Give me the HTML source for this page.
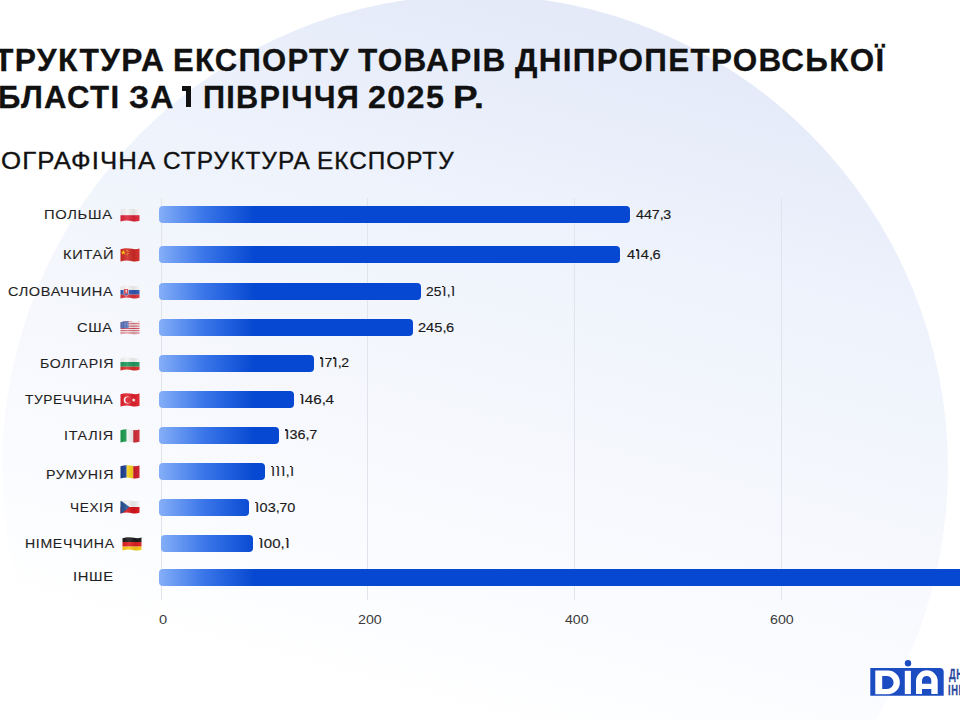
<!DOCTYPE html>
<html><head><meta charset="utf-8">
<style>
html,body{margin:0;padding:0;}
body{width:960px;height:720px;position:relative;overflow:hidden;background:#fff;font-family:"Liberation Sans",sans-serif;}
.circle{position:absolute;left:2px;top:-5px;width:946px;height:946px;border-radius:50%;
background:linear-gradient(195deg,#e2e8f8 0%,#e4eaf8 11%,#edf2fc 27%,#f3f6fc 40%,#f9fafe 55%,#fcfdff 64%,#ffffff 72%);}
.t{position:absolute;white-space:nowrap;line-height:1;transform-origin:0 0;}
.grid{position:absolute;top:198px;width:1px;height:402px;background:#e1e4ec;}
.bar{position:absolute;height:17px;border-radius:4px;
background:linear-gradient(90deg,#84aef7 0px,#3a76e9 45px,#0648d1 95px);}
svg.flag{position:absolute;width:20px;height:14px;overflow:visible;}
</style></head><body>
<div class="circle"></div>

<div class="grid" style="left:161px"></div>
<div class="grid" style="left:367px"></div>
<div class="grid" style="left:574px"></div>
<div class="grid" style="left:781px"></div>

<div class="bar" style="left:159px;top:206px;width:471px"></div>
<div class="bar" style="left:159px;top:246px;width:461px"></div>
<div class="bar" style="left:159px;top:283px;width:262px"></div>
<div class="bar" style="left:159px;top:319px;width:254px"></div>
<div class="bar" style="left:159px;top:355px;width:155px"></div>
<div class="bar" style="left:159px;top:391px;width:135px"></div>
<div class="bar" style="left:159px;top:427px;width:120px"></div>
<div class="bar" style="left:159px;top:463px;width:106px"></div>
<div class="bar" style="left:159px;top:499px;width:90px"></div>
<div class="bar" style="left:161px;top:535px;width:92px"></div>
<div class="bar" style="left:159px;top:569px;width:810px"></div>

<svg width="0" height="0" style="position:absolute">
<defs>
<clipPath id="wave"><path d="M0.5,1.2 C5,-0.3 9,0.2 12,0.8 C15,1.4 17,1.2 19.5,0.4 L19.5,12.8 C17,13.6 15,13.8 12,13.2 C9,12.6 5,12.1 0.5,13.6 Z"/></clipPath>
<linearGradient id="shade" x1="0" x2="1" y1="0" y2="0">
<stop offset="0" stop-color="#000" stop-opacity="0.05"/>
<stop offset="0.35" stop-color="#fff" stop-opacity="0.12"/>
<stop offset="0.7" stop-color="#000" stop-opacity="0.08"/>
<stop offset="1" stop-color="#fff" stop-opacity="0.05"/>
</linearGradient>
</defs>
</svg>
<svg class="flag" style="left:120px;top:208px;" viewBox="0 0 20 14"><g clip-path="url(#wave)"><rect width="20" height="7.2" fill="#f4f4f4"/><rect y="7.2" width="20" height="8" fill="#dc2538"/><rect width="20" height="15" fill="url(#shade)"/></g></svg>
<svg class="flag" style="left:120px;top:247.8px;" viewBox="0 0 20 14"><g clip-path="url(#wave)"><rect width="20" height="15" fill="#d02a26"/><polygon points="3.5,2.2 4.3,4.4 6.4,4.4 4.7,5.7 5.4,7.8 3.5,6.5 1.7,7.8 2.3,5.7 0.7,4.4 2.8,4.4" fill="#ffd800" transform="translate(0.3,0) scale(0.85)"/><circle cx="7" cy="2.2" r="0.5" fill="#ffd800"/><circle cx="8" cy="3.6" r="0.5" fill="#ffd800"/><circle cx="8" cy="5.4" r="0.5" fill="#ffd800"/><circle cx="7" cy="6.8" r="0.5" fill="#ffd800"/><rect width="20" height="15" fill="url(#shade)"/></g></svg>
<svg class="flag" style="left:120px;top:284.5px;" viewBox="0 0 20 14"><g clip-path="url(#wave)"><rect width="20" height="5" fill="#f4f4f4"/><rect y="5" width="20" height="4.6" fill="#2f56b0"/><rect y="9.6" width="20" height="5.4" fill="#d8323a"/><path d="M3.6,3.4 h5 v4.6 c0,2 -1.6,3.1 -2.5,3.5 c-0.9,-0.4 -2.5,-1.5 -2.5,-3.5 z" fill="#f4f4f4"/><path d="M4.1,3.9 h4 v4.1 c0,1.6 -1.2,2.5 -2,2.9 c-0.8,-0.4 -2,-1.3 -2,-2.9 z" fill="#d8323a"/><rect x="5.8" y="4.5" width="0.7" height="4.2" fill="#fff"/><rect x="5" y="5.6" width="2.3" height="0.6" fill="#fff"/><path d="M4.3,9.2 c0.6,-0.8 1.2,-0.8 1.8,-0.2 c0.6,-0.6 1.2,-0.6 1.8,0.2 l-1.8,1.5 z" fill="#2f56b0"/><rect width="20" height="15" fill="url(#shade)"/></g></svg>
<svg class="flag" style="left:120px;top:320.5px;" viewBox="0 0 20 14"><g clip-path="url(#wave)"><rect y="0.00" width="20" height="1.15" fill="#d4485a"/><rect y="1.15" width="20" height="1.15" fill="#f3eeee"/><rect y="2.31" width="20" height="1.15" fill="#d4485a"/><rect y="3.46" width="20" height="1.15" fill="#f3eeee"/><rect y="4.62" width="20" height="1.15" fill="#d4485a"/><rect y="5.77" width="20" height="1.15" fill="#f3eeee"/><rect y="6.92" width="20" height="1.15" fill="#d4485a"/><rect y="8.08" width="20" height="1.15" fill="#f3eeee"/><rect y="9.23" width="20" height="1.15" fill="#d4485a"/><rect y="10.38" width="20" height="1.15" fill="#f3eeee"/><rect y="11.54" width="20" height="1.15" fill="#d4485a"/><rect y="12.69" width="20" height="1.15" fill="#f3eeee"/><rect y="13.85" width="20" height="1.15" fill="#d4485a"/><rect width="8.5" height="7.2" fill="#4a69b2"/><g fill="#fff" opacity="0.85"><circle cx="1.0" cy="1.0" r="0.28"/><circle cx="2.6" cy="1.0" r="0.28"/><circle cx="4.2" cy="1.0" r="0.28"/><circle cx="5.8" cy="1.0" r="0.28"/><circle cx="7.4" cy="1.0" r="0.28"/><circle cx="1.0" cy="2.3" r="0.28"/><circle cx="2.6" cy="2.3" r="0.28"/><circle cx="4.2" cy="2.3" r="0.28"/><circle cx="5.8" cy="2.3" r="0.28"/><circle cx="7.4" cy="2.3" r="0.28"/><circle cx="1.0" cy="3.6" r="0.28"/><circle cx="2.6" cy="3.6" r="0.28"/><circle cx="4.2" cy="3.6" r="0.28"/><circle cx="5.8" cy="3.6" r="0.28"/><circle cx="7.4" cy="3.6" r="0.28"/><circle cx="1.0" cy="4.9" r="0.28"/><circle cx="2.6" cy="4.9" r="0.28"/><circle cx="4.2" cy="4.9" r="0.28"/><circle cx="5.8" cy="4.9" r="0.28"/><circle cx="7.4" cy="4.9" r="0.28"/><circle cx="1.0" cy="6.2" r="0.28"/><circle cx="2.6" cy="6.2" r="0.28"/><circle cx="4.2" cy="6.2" r="0.28"/><circle cx="5.8" cy="6.2" r="0.28"/><circle cx="7.4" cy="6.2" r="0.28"/></g><rect width="20" height="15" fill="url(#shade)"/></g></svg>
<svg class="flag" style="left:120px;top:356.8px;" viewBox="0 0 20 14"><g clip-path="url(#wave)"><rect width="20" height="5" fill="#f4f4f4"/><rect y="5" width="20" height="4.7" fill="#1f9a5f"/><rect y="9.7" width="20" height="5.3" fill="#d8302a"/><rect width="20" height="15" fill="url(#shade)"/></g></svg>
<svg class="flag" style="left:120px;top:392.6px;" viewBox="0 0 20 14"><g clip-path="url(#wave)"><rect width="20" height="15" fill="#e0202c"/><circle cx="7.3" cy="7" r="3.6" fill="#fff"/><circle cx="8.2" cy="7" r="2.9" fill="#e0202c"/><polygon points="11.2,7 12.9,6.4 12.9,4.8 13.9,6.2 15.6,5.7 14.5,7.1 15.6,8.4 13.9,7.9 12.9,9.3 12.9,7.6" fill="#fff"/><rect width="20" height="15" fill="url(#shade)"/></g></svg>
<svg class="flag" style="left:120px;top:428.5px;" viewBox="0 0 20 14"><g clip-path="url(#wave)"><rect width="6.7" height="15" fill="#1b9a4c"/><rect x="6.7" width="6.6" height="15" fill="#f4f4f4"/><rect x="13.3" width="7" height="15" fill="#cf2b37"/><rect width="20" height="15" fill="url(#shade)"/></g></svg>
<svg class="flag" style="left:120px;top:464.5px;" viewBox="0 0 20 14"><g clip-path="url(#wave)"><rect width="6.7" height="15" fill="#1a3c8c"/><rect x="6.7" width="6.6" height="15" fill="#f8d117"/><rect x="13.3" width="7" height="15" fill="#cf1b2a"/><rect width="20" height="15" fill="url(#shade)"/></g></svg>
<svg class="flag" style="left:120px;top:500.3px;" viewBox="0 0 20 14"><g clip-path="url(#wave)"><rect width="20" height="7" fill="#f4f4f4"/><rect y="7" width="20" height="8" fill="#d7141a"/><polygon points="0,0 9.5,7 0,15" fill="#24508f"/><rect width="20" height="15" fill="url(#shade)"/></g></svg>
<svg class="flag" style="left:122px;top:536.6px;" viewBox="0 0 20 14"><g clip-path="url(#wave)"><rect width="20" height="5" fill="#1a1a1a"/><rect y="5" width="20" height="4.6" fill="#dd1f1f"/><rect y="9.6" width="20" height="5.4" fill="#f9c914"/><rect width="20" height="15" fill="url(#shade)"/></g></svg>

<svg style="position:absolute;left:860px;top:650px;" width="100" height="60" viewBox="860 650 100 60">
<path d="M870.3,668 H939.7 A4,4 0 0 1 943.7,672 V695.8 H870.3 Z" fill="#1b4cc2"/>
<circle cx="908" cy="663.3" r="3.2" fill="#1b4cc2"/>
<path fill="#fff" fill-rule="evenodd" d="M875.3,670.6 H888 A11.85,11.85 0 0 1 888,694.3 H875.3 Z M882.2,676 V689 H887.1 A6.5,6.5 0 0 0 887.1,676 Z"/>
<rect x="904.8" y="670.8" width="6.1" height="23.3" fill="#fff"/>
<path fill="#fff" fill-rule="evenodd" d="M916,694 V681.1 A10.85,10.85 0 0 1 937.7,681.1 V694 H931.3 V689 H922 V694 Z M922,683.7 H931.3 V680.65 A4.65,4.65 0 0 0 922,680.65 Z"/>
</svg>
<div class="t" style="left:948.6px;top:665.8px;font-weight:bold;font-size:15.5px;color:#2a4a9e;transform:scaleX(0.6);letter-spacing:1px;-webkit-text-stroke:0.3px #2a4a9e;">ДНІПРО</div>
<div class="t" style="left:948.2px;top:681.9px;font-weight:bold;font-size:15.5px;color:#2a4a9e;transform:scaleX(0.6);letter-spacing:1px;-webkit-text-stroke:0.3px #2a4a9e;">ІННОВ</div>


<div style="position:absolute;left:182px;top:86.3px;width:4.2px;height:4.3px;background:#111"></div>
<div style="position:absolute;left:186px;top:86.3px;width:5.1px;height:21.2px;background:#111"></div>
<div class="t" style="left:-6.26px;top:44.55px;font-weight:bold;font-size:31px;letter-spacing:1.3px;color:#111;transform:scaleX(1.0252);-webkit-text-stroke:0.3px #111;">ТРУКТУРА</div>
<div class="t" style="left:172.90px;top:44.55px;font-weight:bold;font-size:31px;letter-spacing:1.3px;color:#111;transform:scaleX(1.0006);-webkit-text-stroke:0.3px #111;">ЕКСПОРТУ</div>
<div class="t" style="left:358.35px;top:44.55px;font-weight:bold;font-size:31px;letter-spacing:1.3px;color:#111;transform:scaleX(1.0164);-webkit-text-stroke:0.3px #111;">ТОВАРІВ</div>
<div class="t" style="left:514.65px;top:44.55px;font-weight:bold;font-size:31px;letter-spacing:1.3px;color:#111;transform:scaleX(1.0133);-webkit-text-stroke:0.3px #111;">ДНІПРОПЕТРОВСЬКОЇ</div>
<div class="t" style="left:-2.01px;top:81.95px;font-weight:bold;font-size:31px;letter-spacing:1.3px;color:#111;transform:scaleX(1.0043);-webkit-text-stroke:0.3px #111;">БЛАСТІ</div>
<div class="t" style="left:128.93px;top:81.95px;font-weight:bold;font-size:31px;letter-spacing:1.3px;color:#111;transform:scaleX(1.0313);-webkit-text-stroke:0.3px #111;">ЗА</div>
<div class="t" style="left:203.12px;top:81.95px;font-weight:bold;font-size:31px;letter-spacing:1.3px;color:#111;transform:scaleX(0.9889);-webkit-text-stroke:0.3px #111;">ПІВРІЧЧЯ</div>
<div class="t" style="left:367.96px;top:81.95px;font-weight:bold;font-size:31px;letter-spacing:1.3px;color:#111;transform:scaleX(1.0408);-webkit-text-stroke:0.3px #111;">2025</div>
<div class="t" style="left:452.91px;top:81.95px;font-weight:bold;font-size:31px;letter-spacing:1.3px;color:#111;transform:scaleX(1.1931);-webkit-text-stroke:0.3px #111;">Р.</div>
<div class="t" style="left:1.36px;top:149.40px;font-size:24px;letter-spacing:1px;color:#111;transform:scaleX(1.0742);-webkit-text-stroke:0.35px #111;">ОГРАФІЧНА</div>
<div class="t" style="left:163.03px;top:149.40px;font-size:24px;letter-spacing:1px;color:#111;transform:scaleX(1.0186);-webkit-text-stroke:0.35px #111;">СТРУКТУРА</div>
<div class="t" style="left:317.17px;top:149.40px;font-size:24px;letter-spacing:1px;color:#111;transform:scaleX(1.0136);-webkit-text-stroke:0.35px #111;">ЕКСПОРТУ</div>
<div class="t" style="left:44.17px;top:208.20px;font-size:13px;letter-spacing:0.6px;color:#1f1f1f;transform:scaleX(1.1339);-webkit-text-stroke:0.1px #1f1f1f;">ПОЛЬША</div>
<div class="t" style="left:62.87px;top:248.30px;font-size:13px;letter-spacing:0.6px;color:#1f1f1f;transform:scaleX(1.1275);-webkit-text-stroke:0.1px #1f1f1f;">КИТАЙ</div>
<div class="t" style="left:7.76px;top:284.70px;font-size:13px;letter-spacing:0.6px;color:#1f1f1f;transform:scaleX(1.1170);-webkit-text-stroke:0.1px #1f1f1f;">СЛОВАЧЧИНА</div>
<div class="t" style="left:77.25px;top:321.10px;font-size:13px;letter-spacing:0.6px;color:#1f1f1f;transform:scaleX(1.1273);-webkit-text-stroke:0.1px #1f1f1f;">США</div>
<div class="t" style="left:39.81px;top:356.75px;font-size:13px;letter-spacing:0.6px;color:#1f1f1f;transform:scaleX(1.0885);-webkit-text-stroke:0.1px #1f1f1f;">БОЛГАРІЯ</div>
<div class="t" style="left:24.74px;top:392.70px;font-size:13px;letter-spacing:0.6px;color:#1f1f1f;transform:scaleX(1.0538);-webkit-text-stroke:0.1px #1f1f1f;">ТУРЕЧЧИНА</div>
<div class="t" style="left:64.22px;top:428.60px;font-size:13px;letter-spacing:0.6px;color:#1f1f1f;transform:scaleX(1.1030);-webkit-text-stroke:0.1px #1f1f1f;">ІТАЛІЯ</div>
<div class="t" style="left:45.81px;top:467.70px;font-size:13px;letter-spacing:0.6px;color:#1f1f1f;transform:scaleX(1.0929);-webkit-text-stroke:0.1px #1f1f1f;">РУМУНІЯ</div>
<div class="t" style="left:70.05px;top:501.00px;font-size:13px;letter-spacing:0.6px;color:#1f1f1f;transform:scaleX(1.0471);-webkit-text-stroke:0.1px #1f1f1f;">ЧЕХІЯ</div>
<div class="t" style="left:24.71px;top:536.90px;font-size:13px;letter-spacing:0.6px;color:#1f1f1f;transform:scaleX(1.0858);-webkit-text-stroke:0.1px #1f1f1f;">НІМЕЧЧИНА</div>
<div class="t" style="left:72.78px;top:570.20px;font-size:13px;letter-spacing:0.6px;color:#1f1f1f;transform:scaleX(1.1343);-webkit-text-stroke:0.1px #1f1f1f;">ІНШЕ</div>
<div class="t" style="left:636.03px;top:208.20px;font-size:13px;color:#1a1a1a;transform:scaleX(1.0944);-webkit-text-stroke:0.15px #1a1a1a;">447<span style="margin-right:-0.4px">,</span>3</div>
<div class="t" style="left:626.82px;top:248.40px;font-size:13px;color:#1a1a1a;transform:scaleX(1.1248);-webkit-text-stroke:0.15px #1a1a1a;">4<span style="position:relative;margin-left:1.1px;margin-right:0.3px">I<i style="position:absolute;left:-0.3px;top:2px;width:2px;height:1.5px;background:currentColor"></i></span>4<span style="margin-right:-0.4px">,</span>6</div>
<div class="t" style="left:426.30px;top:284.70px;font-size:13px;color:#1a1a1a;transform:scaleX(1.0627);-webkit-text-stroke:0.15px #1a1a1a;">25<span style="position:relative;margin-left:1.1px;margin-right:0.3px">I<i style="position:absolute;left:-0.3px;top:2px;width:2px;height:1.5px;background:currentColor"></i></span><span style="margin-right:-0.4px">,</span><span style="position:relative;margin-left:1.1px;margin-right:0.3px">I<i style="position:absolute;left:-0.3px;top:2px;width:2px;height:1.5px;background:currentColor"></i></span></div>
<div class="t" style="left:418.36px;top:320.50px;font-size:13px;color:#1a1a1a;transform:scaleX(1.1236);-webkit-text-stroke:0.15px #1a1a1a;">245<span style="margin-right:-0.4px">,</span>6</div>
<div class="t" style="left:318.51px;top:356.30px;font-size:13px;color:#1a1a1a;transform:scaleX(1.0885);-webkit-text-stroke:0.15px #1a1a1a;"><span style="position:relative;margin-left:1.1px;margin-right:0.3px">I<i style="position:absolute;left:-0.3px;top:2px;width:2px;height:1.5px;background:currentColor"></i></span>7<span style="position:relative;margin-left:1.1px;margin-right:0.3px">I<i style="position:absolute;left:-0.3px;top:2px;width:2px;height:1.5px;background:currentColor"></i></span><span style="margin-right:-0.4px">,</span>2</div>
<div class="t" style="left:298.83px;top:392.60px;font-size:13px;color:#1a1a1a;transform:scaleX(1.1684);-webkit-text-stroke:0.15px #1a1a1a;"><span style="position:relative;margin-left:1.1px;margin-right:0.3px">I<i style="position:absolute;left:-0.3px;top:2px;width:2px;height:1.5px;background:currentColor"></i></span>46<span style="margin-right:-0.4px">,</span>4</div>
<div class="t" style="left:283.89px;top:428.40px;font-size:13px;color:#1a1a1a;transform:scaleX(1.1062);-webkit-text-stroke:0.15px #1a1a1a;"><span style="position:relative;margin-left:1.1px;margin-right:0.3px">I<i style="position:absolute;left:-0.3px;top:2px;width:2px;height:1.5px;background:currentColor"></i></span>36<span style="margin-right:-0.4px">,</span>7</div>
<div class="t" style="left:270.21px;top:464.70px;font-size:13px;color:#1a1a1a;transform:scaleX(1.0434);-webkit-text-stroke:0.15px #1a1a1a;"><span style="position:relative;margin-left:1.1px;margin-right:0.3px">I<i style="position:absolute;left:-0.3px;top:2px;width:2px;height:1.5px;background:currentColor"></i></span><span style="position:relative;margin-left:1.1px;margin-right:0.3px">I<i style="position:absolute;left:-0.3px;top:2px;width:2px;height:1.5px;background:currentColor"></i></span><span style="position:relative;margin-left:1.1px;margin-right:0.3px">I<i style="position:absolute;left:-0.3px;top:2px;width:2px;height:1.5px;background:currentColor"></i></span><span style="margin-right:-0.4px">,</span><span style="position:relative;margin-left:1.1px;margin-right:0.3px">I<i style="position:absolute;left:-0.3px;top:2px;width:2px;height:1.5px;background:currentColor"></i></span></div>
<div class="t" style="left:253.99px;top:500.60px;font-size:13px;color:#1a1a1a;transform:scaleX(1.1133);-webkit-text-stroke:0.15px #1a1a1a;"><span style="position:relative;margin-left:1.1px;margin-right:0.3px">I<i style="position:absolute;left:-0.3px;top:2px;width:2px;height:1.5px;background:currentColor"></i></span>03<span style="margin-right:-0.4px">,</span>70</div>
<div class="t" style="left:257.80px;top:536.60px;font-size:13px;color:#1a1a1a;transform:scaleX(1.1545);-webkit-text-stroke:0.15px #1a1a1a;"><span style="position:relative;margin-left:1.1px;margin-right:0.3px">I<i style="position:absolute;left:-0.3px;top:2px;width:2px;height:1.5px;background:currentColor"></i></span>00<span style="margin-right:-0.4px">,</span><span style="position:relative;margin-left:1.1px;margin-right:0.3px">I<i style="position:absolute;left:-0.3px;top:2px;width:2px;height:1.5px;background:currentColor"></i></span></div>
<div class="t" style="left:159.39px;top:613.55px;font-size:12px;color:#3a3a3a;transform:scaleX(1.2174);">0</div>
<div class="t" style="left:358.16px;top:613.55px;font-size:12px;color:#3a3a3a;transform:scaleX(1.1842);">200</div>
<div class="t" style="left:564.91px;top:613.55px;font-size:12px;color:#3a3a3a;transform:scaleX(1.1792);">400</div>
<div class="t" style="left:770.31px;top:613.55px;font-size:12px;color:#3a3a3a;transform:scaleX(1.1842);">600</div>
</body></html>
